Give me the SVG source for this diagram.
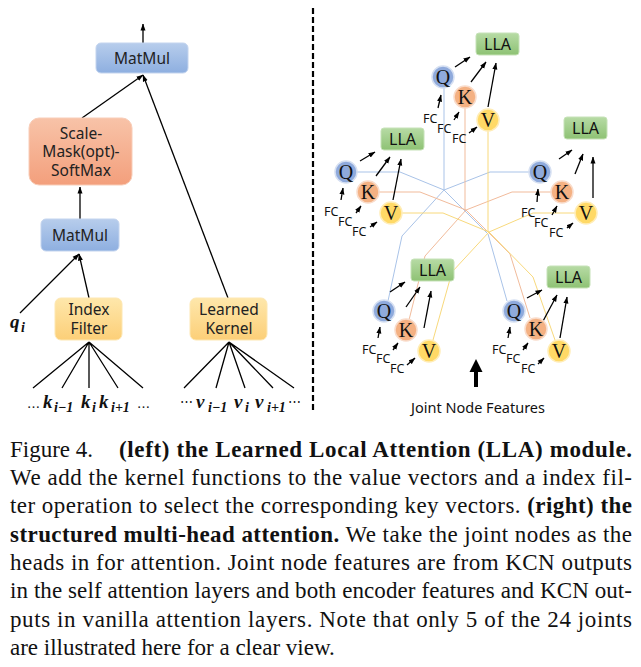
<svg xmlns="http://www.w3.org/2000/svg" width="641" height="667" viewBox="0 0 641 667">
<defs>
  <linearGradient id="gBlue" x1="0" y1="0" x2="0" y2="1"><stop offset="0" stop-color="#b7cdec"/><stop offset="1" stop-color="#8eafe0"/></linearGradient>
  <linearGradient id="gOrange" x1="0" y1="0" x2="0" y2="1"><stop offset="0" stop-color="#f8c3a8"/><stop offset="1" stop-color="#f39f7c"/></linearGradient>
  <linearGradient id="gYellow" x1="0" y1="0" x2="0" y2="1"><stop offset="0" stop-color="#fee7ab"/><stop offset="1" stop-color="#fccf78"/></linearGradient>
  <linearGradient id="gGreen" x1="0" y1="0" x2="0" y2="1"><stop offset="0" stop-color="#b7dba5"/><stop offset="1" stop-color="#8ec274"/></linearGradient>
  <marker id="ah" markerWidth="7" markerHeight="6" refX="6.5" refY="3" orient="auto" markerUnits="userSpaceOnUse"><path d="M0,0.5 L7,3 L0,5.5 z" fill="#000"/></marker>
</defs>
<style>
  .lbl{font-family:"Noto Sans","Open Sans",sans-serif;font-size:15.5px;fill:#222;text-anchor:middle}
  .lla{font-family:"Noto Sans","Open Sans",sans-serif;font-size:16px;fill:#111;text-anchor:middle}
  .jnf{font-family:"Noto Sans","Open Sans",sans-serif;font-size:14.5px;fill:#111;text-anchor:middle}
  .fc{font-family:"Noto Sans","Open Sans",sans-serif;font-size:12.5px;fill:#111}
  .let{font-family:"Liberation Serif","Times New Roman",serif;font-size:20px;fill:#111;text-anchor:middle}
  .math{font-family:"Liberation Serif","Times New Roman",serif;font-weight:bold;font-style:italic;font-size:19px;fill:#111}
  .sub{font-family:"Liberation Serif","Times New Roman",serif;font-weight:bold;font-style:italic;font-size:14px;fill:#111}
  .dots{font-family:"DejaVu Serif","Liberation Serif",serif;font-size:13px;fill:#111}
  .cap{font-family:"Liberation Serif","Times New Roman",serif;font-size:23px;fill:#111}
  .b{font-weight:bold}
  .arr{stroke:#000;stroke-width:1.3;fill:none;marker-end:url(#ah)}
  .ln{stroke:#000;stroke-width:1.3;fill:none}
  .hb{stroke:#a9c3e8;stroke-width:1;fill:none}
  .ho{stroke:#f1bb9b;stroke-width:1;fill:none}
  .hy{stroke:#f8d97c;stroke-width:1;fill:none}
  .cq{fill:#8faadc;stroke:#d6e0f2;stroke-width:1.5}
  .ck{fill:#f4b183;stroke:#f9dccb;stroke-width:1.5}
  .cv{fill:#ffd966;stroke:#ffedb8;stroke-width:1.5}
  .bl{fill:url(#gBlue);stroke:#c3d4ee;stroke-width:1}
  .or{fill:url(#gOrange);stroke:#f8cdb8;stroke-width:1}
  .ye{fill:url(#gYellow);stroke:#fde7b2;stroke-width:1}
  .gr{fill:url(#gGreen);stroke:#c6e2b8;stroke-width:1}
</style>
<rect width="641" height="667" fill="#fff"/>

<!-- connectors -->
<g id="connectors">
  <!-- left panel -->
  <path class="arr" d="M143,43 L143,24"/>
  <path class="arr" d="M82,118 L143,75"/>
  <path class="arr" d="M228,298 L143,75"/>
  <path class="arr" d="M80,219 L80,187"/>
  <path class="arr" d="M20,313 L79,254"/>
  <path class="arr" d="M89,298 L79,254"/>
  <path class="ln" d="M33,388 L89,342 M62,388 L89,342 M89,388 L89,342 M118,388 L89,342 M143,388 L89,342"/>
  <path class="ln" d="M184,388 L229,342 M216,388 L229,342 M245,388 L229,342 M273,388 L229,342 M294,388 L229,342"/>
  <line x1="313" y1="8" x2="313" y2="412" stroke="#000" stroke-width="2.2" stroke-dasharray="6,3"/>
  <!-- right panel hub lines -->
  <path class="hb" d="M444,88 L444,190"/>
  <path class="hb" d="M357,172 L400,172 L444,190"/>
  <path class="hb" d="M529,172 L490,172 L444,190"/>
  <path class="hb" d="M388,301 L402,236 L444,190"/>
  <path class="hb" d="M507,301 L488,234 L444,190"/>
  <path class="ho" d="M465,108 L465,210"/>
  <path class="ho" d="M379,192 L420,192 L466,210"/>
  <path class="ho" d="M551,192 L512,192 L466,210"/>
  <path class="ho" d="M409,320 L425,256 L466,210"/>
  <path class="ho" d="M530,318 L510,254 L466,210"/>
  <path class="hy" d="M488,131 L488,232"/>
  <path class="hy" d="M402,213 L443,213 L489,232"/>
  <path class="hy" d="M575,213 L533,213 L489,232"/>
  <path class="hy" d="M433,340 L452,272 L489,232"/>
  <path class="hy" d="M555,340 L533,277 L489,232"/>
  <!-- top group arrows -->
  <path class="arr" d="M455,67 L470,57"/>
  <path class="arr" d="M471,82 L486,62"/>
  <path class="arr" d="M488,107 L496,63"/>
  <path class="arr" d="M438,108 L441,95"/>
  <path class="arr" d="M454,120 L459,112"/>
  <path class="arr" d="M469,133 L477,127"/>
  <!-- left group arrows -->
  <path class="arr" d="M360,161 L375,152"/>
  <path class="arr" d="M376,176 L390,157"/>
  <path class="arr" d="M393,200 L401,159"/>
  <path class="arr" d="M341,200 L343,188"/>
  <path class="arr" d="M356,213 L361,206"/>
  <path class="arr" d="M370,227 L377,222"/>
  <!-- right group arrows -->
  <path class="arr" d="M559,159 L572,150"/>
  <path class="arr" d="M575,174 L583,154"/>
  <path class="arr" d="M593,198 L593,157"/>
  <path class="arr" d="M537,202 L538,189"/>
  <path class="arr" d="M552,215 L557,206"/>
  <path class="arr" d="M567,228 L573,223"/>
  <!-- bottom-left group arrows -->
  <path class="arr" d="M390,292 L405,282"/>
  <path class="arr" d="M406,307 L420,287"/>
  <path class="arr" d="M424,328 L431,291"/>
  <path class="arr" d="M378,338 L380,327"/>
  <path class="arr" d="M393,350 L398,343"/>
  <path class="arr" d="M407,365 L415,358"/>
  <!-- bottom-right group arrows -->
  <path class="arr" d="M527,298 L542,290"/>
  <path class="arr" d="M542,323 L557,295"/>
  <path class="arr" d="M560,338 L567,297"/>
  <path class="arr" d="M508,338 L510,327"/>
  <path class="arr" d="M523,350 L528,343"/>
  <path class="arr" d="M538,364 L544,358"/>
  <!-- big input arrow -->
  <line x1="476" y1="387" x2="476" y2="370" stroke="#000" stroke-width="4"/>
  <polygon points="469.5,372 476,359 482.5,372" fill="#000"/>
</g>

<!-- left panel nodes -->
<g id="matmul-top">
  <rect class="bl" x="96" y="43" width="92" height="30" rx="5"/>
  <text class="lbl" x="142" y="63.5">MatMul</text>
</g>
<g id="scale-mask-softmax">
  <rect class="or" x="29" y="118" width="103" height="67" rx="10"/>
  <text class="lbl" x="81" y="138.5">Scale-</text>
  <text class="lbl" x="81" y="157">Mask(opt)-</text>
  <text class="lbl" x="81" y="175.5">SoftMax</text>
</g>
<g id="matmul-bottom">
  <rect class="bl" x="41" y="219" width="78" height="32" rx="5"/>
  <text class="lbl" x="80" y="240.5">MatMul</text>
</g>
<g id="index-filter">
  <rect class="ye" x="55" y="298" width="67" height="42" rx="6"/>
  <text class="lbl" x="89" y="315">Index</text>
  <text class="lbl" x="89" y="333.5">Filter</text>
</g>
<g id="learned-kernel">
  <rect class="ye" x="190" y="298" width="77" height="42" rx="6"/>
  <text class="lbl" x="229" y="315">Learned</text>
  <text class="lbl" x="229" y="333.5">Kernel</text>
</g>
<g id="q-input">
  <text class="math" x="10" y="328">q</text><text class="sub" x="21" y="332">i</text>
</g>
<g id="k-inputs">
  <text class="dots" x="27" y="408">…</text>
  <text class="math" x="43" y="408">k</text><text class="sub" x="54" y="412">i−1</text>
  <text class="math" x="81" y="408">k</text><text class="sub" x="92" y="412">i</text>
  <text class="math" x="99" y="408">k</text><text class="sub" x="111" y="412">i+1</text>
  <text class="dots" x="137" y="408">…</text>
</g>
<g id="v-inputs">
  <text class="dots" x="180" y="406">⋯</text>
  <text class="math" x="196" y="408">v</text><text class="sub" x="208" y="412">i−1</text>
  <text class="math" x="234" y="408">v</text><text class="sub" x="245" y="412">i</text>
  <text class="math" x="255" y="408">v</text><text class="sub" x="267" y="412">i+1</text>
  <text class="dots" x="288" y="406">⋯</text>
</g>

<!-- right panel nodes -->
<g id="head-top">
  <rect class="gr" x="476" y="33" width="43" height="22" rx="3"/>
  <text class="lla" x="497.5" y="50">LLA</text>
  <circle class="cq" cx="443" cy="77" r="11"/><text class="let" x="443" y="83.5">Q</text>
  <circle class="ck" cx="465" cy="97" r="11"/><text class="let" x="465" y="103.5">K</text>
  <circle class="cv" cx="488" cy="120" r="11"/><text class="let" x="488" y="126.5">V</text>
  <text class="fc" x="423" y="123">FC</text><text class="fc" x="437" y="133">FC</text><text class="fc" x="452" y="143">FC</text>
</g>
<g id="head-left">
  <rect class="gr" x="381" y="128" width="43" height="22" rx="3"/>
  <text class="lla" x="402.5" y="145">LLA</text>
  <circle class="cq" cx="346" cy="172" r="11"/><text class="let" x="346" y="178.5">Q</text>
  <circle class="ck" cx="368" cy="192" r="11"/><text class="let" x="368" y="198.5">K</text>
  <circle class="cv" cx="391" cy="213" r="11"/><text class="let" x="391" y="219.5">V</text>
  <text class="fc" x="324" y="216">FC</text><text class="fc" x="338" y="226">FC</text><text class="fc" x="352" y="236">FC</text>
</g>
<g id="head-right">
  <rect class="gr" x="564" y="117" width="43" height="22" rx="3"/>
  <text class="lla" x="585.5" y="134">LLA</text>
  <circle class="cq" cx="540" cy="172" r="11"/><text class="let" x="540" y="178.5">Q</text>
  <circle class="ck" cx="562" cy="192" r="11"/><text class="let" x="562" y="198.5">K</text>
  <circle class="cv" cx="586" cy="213" r="11"/><text class="let" x="586" y="219.5">V</text>
  <text class="fc" x="521" y="217">FC</text><text class="fc" x="534" y="227">FC</text><text class="fc" x="549" y="237">FC</text>
</g>
<g id="head-bottom-left">
  <rect class="gr" x="411" y="259" width="43" height="22" rx="3"/>
  <text class="lla" x="432.5" y="276">LLA</text>
  <circle class="cq" cx="384" cy="311" r="11"/><text class="let" x="384" y="317.5">Q</text>
  <circle class="ck" cx="406" cy="330" r="11"/><text class="let" x="406" y="336.5">K</text>
  <circle class="cv" cx="429" cy="351" r="11"/><text class="let" x="429" y="357.5">V</text>
  <text class="fc" x="362" y="354">FC</text><text class="fc" x="376" y="363">FC</text><text class="fc" x="390" y="373">FC</text>
</g>
<g id="head-bottom-right">
  <rect class="gr" x="547" y="266" width="43" height="22" rx="3"/>
  <text class="lla" x="568.5" y="283">LLA</text>
  <circle class="cq" cx="514" cy="311" r="11"/><text class="let" x="514" y="317.5">Q</text>
  <circle class="ck" cx="536" cy="329" r="11"/><text class="let" x="536" y="335.5">K</text>
  <circle class="cv" cx="559" cy="351" r="11"/><text class="let" x="559" y="357.5">V</text>
  <text class="fc" x="492" y="354">FC</text><text class="fc" x="506" y="363">FC</text><text class="fc" x="521" y="373">FC</text>
</g>
<g id="joint-node-features">
  <text class="jnf" x="478" y="413">Joint Node Features</text>
</g>

<!-- caption -->
<g id="caption">
  <text class="cap" x="10" y="456.5">Figure 4.</text>
  <text class="cap b" x="119" y="456.5" textLength="513" lengthAdjust="spacing">(left) the Learned Local Attention (LLA) module.</text>
  <text class="cap" x="10" y="484.9" textLength="622" lengthAdjust="spacing">We add the kernel functions to the value vectors and a index fil-</text>
  <text class="cap" x="10" y="513.2" textLength="622" lengthAdjust="spacing">ter operation to select the corresponding key vectors. <tspan class="b">(right) the</tspan></text>
  <text class="cap" x="10" y="541.6" textLength="622" lengthAdjust="spacing"><tspan class="b">structured multi-head attention.</tspan> We take the joint nodes as the</text>
  <text class="cap" x="10" y="569.9" textLength="622" lengthAdjust="spacing">heads in for attention. Joint node features are from KCN outputs</text>
  <text class="cap" x="10" y="598.3" textLength="622" lengthAdjust="spacing">in the self attention layers and both encoder features and KCN out-</text>
  <text class="cap" x="10" y="626.7" textLength="622" lengthAdjust="spacing">puts in vanilla attention layers. Note that only 5 of the 24 joints</text>
  <text class="cap" x="10" y="655">are illustrated here for a clear view.</text>
</g>
</svg>
